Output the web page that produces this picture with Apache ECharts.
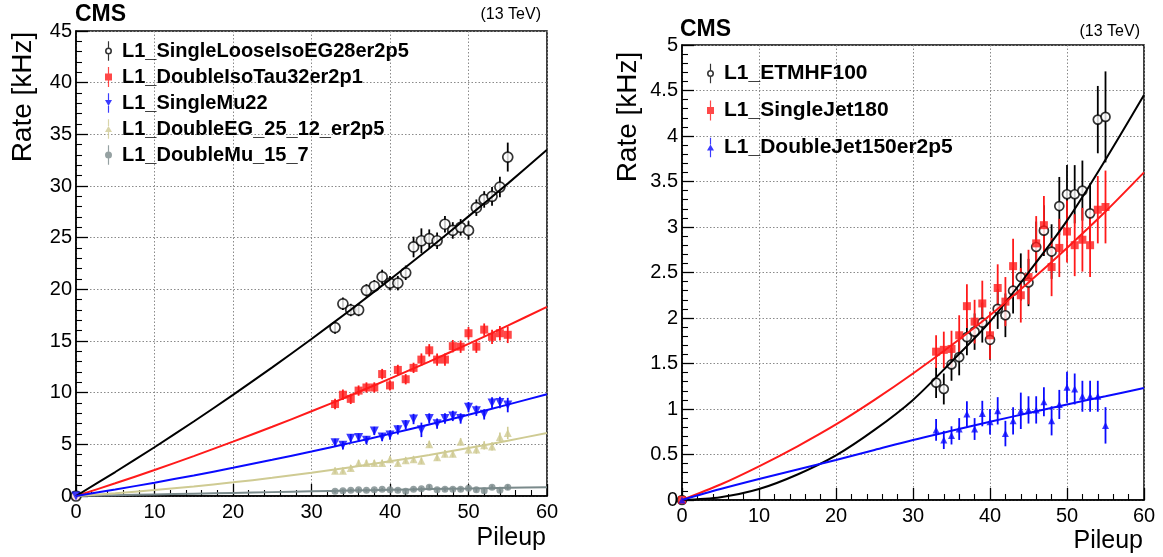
<!DOCTYPE html>
<html>
<head>
<meta charset="utf-8">
<script src="https://cdn.jsdelivr.net/npm/echarts@6/dist/echarts.min.js"></script>
<style>
html,body{margin:0;padding:0;background:#fff;}
#chart{width:1163px;height:557px;}
</style>
</head>
<body>
<div id="chart"></div>
<script>
// ---------- data ----------
const pileup = [0, 33, 34, 35, 36, 37, 38, 39, 40, 41, 42, 43, 44, 45, 46, 47, 48, 49, 50, 51, 52, 53, 54, 55];

// left panel
const leftNames = ['L1_SingleLooseIsoEG28er2p5', 'L1_DoubleIsoTau32er2p1', 'L1_SingleMu22', 'L1_DoubleEG_25_12_er2p5', 'L1_DoubleMu_15_7'];
const egRate   = [0, 16.3, 18.6, 18.0, 18.0, 19.9, 20.3, 21.2, 20.6, 20.6, 21.6, 24.1, 24.7, 24.9, 24.7, 26.3, 25.7, 26.0, 25.7, 27.9, 28.7, 29.0, 29.9, 32.8];
const egErr    = [0, 0.6, 0.6, 0.6, 0.6, 0.6, 0.6, 0.7, 0.7, 0.7, 0.7, 1.0, 1.2, 0.9, 0.8, 0.8, 0.8, 0.8, 0.9, 0.8, 0.8, 0.9, 1.0, 1.4];
const tauRate  = [0, 8.9, 9.8, 9.4, 10.2, 10.5, 10.5, 11.8, 10.7, 12.2, 11.3, 12.4, 13.2, 14.1, 13.2, 13.2, 14.5, 14.45, 15.75, 14.45, 16.1, 15.4, 15.75, 15.6];
const tauErr   = [0, 0.5, 0.5, 0.5, 0.5, 0.5, 0.5, 0.5, 0.5, 0.5, 0.5, 0.5, 0.6, 0.6, 0.6, 0.6, 0.6, 0.6, 0.6, 0.6, 0.6, 0.7, 0.7, 0.8];
const muRate   = [0, 5.15, 4.9, 5.6, 5.65, 5.4, 6.3, 5.7, 5.9, 6.4, 6.9, 7.45, 6.4, 7.5, 7.0, 7.5, 7.75, 7.5, 8.6, 8.25, 7.9, 9.0, 9.05, 8.8];
const muErr    = [0, 0.4, 0.4, 0.4, 0.4, 0.4, 0.4, 0.4, 0.45, 0.45, 0.45, 0.5, 0.7, 0.5, 0.5, 0.5, 0.5, 0.5, 0.5, 0.5, 0.5, 0.55, 0.55, 0.7];
const dEgRate  = [0, 2.45, 2.45, 2.7, 3.2, 3.2, 3.2, 3.2, 3.55, 3.2, 3.45, 3.55, 3.4, 5.0, 3.75, 4.1, 4.1, 5.25, 4.5, 4.5, 4.9, 4.8, 5.7, 6.1];
const dEgErr   = [0, 0.3, 0.3, 0.3, 0.3, 0.3, 0.3, 0.3, 0.3, 0.3, 0.3, 0.3, 0.3, 0.35, 0.35, 0.35, 0.35, 0.35, 0.4, 0.4, 0.4, 0.4, 0.45, 0.6];
const dMuRate  = [0, 0.45, 0.5, 0.55, 0.6, 0.55, 0.6, 0.65, 0.6, 0.55, 0.45, 0.65, 0.7, 0.85, 0.6, 0.65, 0.65, 0.65, 0.75, 0.6, 0.5, 0.85, 0.55, 0.85];
const dMuErr   = [0, 0.15, 0.15, 0.15, 0.15, 0.15, 0.15, 0.15, 0.15, 0.15, 0.15, 0.15, 0.15, 0.2, 0.2, 0.2, 0.2, 0.2, 0.2, 0.2, 0.2, 0.2, 0.2, 0.25];

// fitted curves, every 5 pileup units
const fitPileup = [0, 5, 10, 15, 20, 25, 30, 35, 40, 45, 50, 55, 60];
const egFit   = [0, 2.32, 4.72, 7.21, 9.79, 12.45, 15.2, 18.03, 20.96, 23.96, 27.06, 30.23, 33.5];
const tauFit  = [0, 1.23, 2.52, 3.86, 5.26, 6.70, 8.2, 9.75, 11.36, 13.01, 14.72, 16.49, 18.3];
const muFit   = [0, 0.63, 1.29, 1.99, 2.73, 3.50, 4.3, 5.14, 6.01, 6.92, 7.86, 8.84, 9.85];
const dEgFit  = [0, 0.26, 0.57, 0.92, 1.32, 1.76, 2.25, 2.78, 3.36, 3.97, 4.64, 5.35, 6.1];
const dMuFit  = [0, 0.075, 0.15, 0.225, 0.3, 0.375, 0.45, 0.53, 0.6, 0.67, 0.73, 0.79, 0.85];

// right panel
const rightNames = ['L1_ETMHF100', 'L1_SingleJet180', 'L1_DoubleJet150er2p5'];
const etmRate = [0, 1.29, 1.22, 1.49, 1.57, 1.79, 1.85, 1.95, 1.76, 2.1, 2.03, 2.3, 2.45, 2.39, 2.78, 2.96, 2.73, 3.23, 3.36, 3.36, 3.4, 3.15, 4.18, 4.21];
const etmErr  = [0, 0.17, 0.17, 0.18, 0.2, 0.2, 0.2, 0.22, 0.22, 0.22, 0.24, 0.25, 0.26, 0.26, 0.28, 0.28, 0.3, 0.32, 0.32, 0.32, 0.33, 0.33, 0.37, 0.5];
const jetRate = [0, 1.63, 1.65, 1.66, 1.81, 2.13, 1.96, 2.16, 1.81, 2.33, 2.18, 2.57, 2.25, 2.45, 2.82, 3.02, 2.56, 2.77, 2.95, 2.8, 2.86, 2.8, 3.19, 3.22];
const jetErr  = [0, 0.18, 0.2, 0.2, 0.22, 0.24, 0.24, 0.25, 0.26, 0.26, 0.27, 0.3, 0.3, 0.3, 0.3, 0.32, 0.32, 0.32, 0.34, 0.34, 0.35, 0.35, 0.37, 0.4];
const djRate  = [0, 0.77, 0.66, 0.71, 0.78, 0.945, 0.78, 0.95, 0.86, 0.98, 0.73, 0.87, 0.98, 0.99, 0.99, 1.08, 0.87, 1.05, 1.24, 1.22, 1.14, 1.14, 1.14, 0.82];
const djErr   = [0, 0.12, 0.1, 0.1, 0.12, 0.14, 0.12, 0.14, 0.14, 0.15, 0.14, 0.15, 0.2, 0.15, 0.15, 0.16, 0.16, 0.16, 0.17, 0.17, 0.17, 0.17, 0.17, 0.2];
const etmFit  = [0, 0.03, 0.12, 0.28, 0.49, 0.77, 1.1, 1.52, 1.96, 2.5, 3.07, 3.74, 4.45];
const jetFit  = [0, 0.17, 0.37, 0.59, 0.83, 1.10, 1.39, 1.70, 2.03, 2.39, 2.77, 3.17, 3.6];
const djFit   = [0, 0.12, 0.23, 0.335, 0.44, 0.55, 0.66, 0.76, 0.86, 0.955, 1.05, 1.14, 1.23];

// ---------- chart ----------
const FONT = 'Liberation Sans, Arial, Helvetica, sans-serif';
const chart = echarts.init(document.getElementById('chart'), null, {renderer: 'canvas'});

function errSeries(ax, vals, errs, color, w) {
  return {
    type: 'custom', xAxisIndex: ax, yAxisIndex: ax, silent: true, z: 2,
    data: pileup.map((p, i) => [p, vals[i], errs[i]]),
    encode: {x: 0, y: 1},
    renderItem: function (params, api) {
      const x = api.value(0), y = api.value(1), e = api.value(2);
      if (!e) return {type: 'group', children: []};
      const a = api.coord([x, y + e]), b = api.coord([x, y - e]);
      return {type: 'line', shape: {x1: a[0], y1: a[1], x2: b[0], y2: b[1]},
              style: {stroke: color, lineWidth: w}};
    }
  };
}
function pointSeries(ax, name, vals, symbol, size, color, open, rotate) {
  return {
    type: 'scatter', name: name, xAxisIndex: ax, yAxisIndex: ax, z: 3,
    data: pileup.map((p, i) => [p, vals[i]]),
    symbol: symbol, symbolSize: size, symbolRotate: rotate || 0,
    itemStyle: open ? {color: '#fff', borderColor: color, borderWidth: 1.7}
                    : {color: color, borderWidth: 0},
    emphasis: {disabled: true}
  };
}
function fitSeries(ax, vals, color) {
  return {
    type: 'line', xAxisIndex: ax, yAxisIndex: ax, z: 4, silent: true,
    data: fitPileup.map((p, i) => [p, vals[i]]),
    smooth: 0.3, showSymbol: false, symbol: 'none',
    lineStyle: {color: color, width: 2}
  };
}

const icons = {
  openCircle: 'path://M3,0h1.2v6.3h-1.2z M3,13.7h1.2v6.3h-1.2z M0,10a3.6,3.6 0 1,0 7.2,0a3.6,3.6 0 1,0 -7.2,0z M1.6,10a2,2 0 1,1 4,0a2,2 0 1,1 -4,0z',
  square: 'path://M3,0h1.2v6.5h-1.2z M3,13.5h1.2v6.5h-1.2z M0.1,6.5h7v7h-7z',
  triDown: 'path://M3,0h1.2v7h-1.2z M3,13h1.2v7h-1.2z M0,7h7.2l-3.6,6.2z',
  triUp: 'path://M3,0h1.2v7h-1.2z M3,13h1.2v7h-1.2z M0,13h7.2l-3.6,-6.2z',
  circle: 'path://M3,0h1.2v6.4h-1.2z M3,13.6h1.2v6.4h-1.2z M0,10a3.6,3.6 0 1,0 7.2,0a3.6,3.6 0 1,0 -7.2,0z'
};

const colors = {black: '#000000', red: '#ff1a1a', blue: '#0a0aff', khaki: '#cfcb93', gray: '#7a8a8b'};

function xAxisDef(gi) {
  return {
    type: 'value', gridIndex: gi, min: 0, max: 60, interval: 10,
    axisLine: {show: true, onZero: false, lineStyle: {color: '#000', width: 1.5}},
    axisTick: {show: true, inside: true, length: 12, lineStyle: {color: '#000', width: 1.3}},
    minorTick: {show: true, splitNumber: 5, length: 6, lineStyle: {color: '#000', width: 1.1}},
    splitLine: {show: true, lineStyle: {color: '#8a8a8a', width: 1, type: [1.5, 2]}},
    axisLabel: {color: '#000', fontSize: 20, fontFamily: FONT, margin: 6}
  };
}
function yAxisDef(gi, max, interval) {
  return {
    type: 'value', gridIndex: gi, min: 0, max: max, interval: interval,
    axisLine: {show: true, onZero: false, lineStyle: {color: '#000', width: 1.5}},
    axisTick: {show: true, inside: true, length: 12, lineStyle: {color: '#000', width: 1.3}},
    minorTick: {show: true, splitNumber: 5, length: 6, lineStyle: {color: '#000', width: 1.1}},
    splitLine: {show: true, lineStyle: {color: '#8a8a8a', width: 1, type: [1.5, 2]}},
    axisLabel: {color: '#000', fontSize: 20, fontFamily: FONT, margin: 4}
  };
}

function legendText(size) {
  return {color: '#000', fontSize: size, fontWeight: 'bold', fontFamily: FONT, padding: [0, 0, 0, 5]};
}

const option = {
  animation: false,
  backgroundColor: '#fff',
  textStyle: {fontFamily: FONT},
  title: [
    {text: 'CMS', left: 75, top: 3, padding: 0, textStyle: {fontSize: 23, fontWeight: 'bold', color: '#000', fontFamily: FONT}},
    {text: '(13 TeV)', right: 1163 - 541, top: 7, padding: 0, textStyle: {fontSize: 16, fontWeight: 'normal', color: '#000', fontFamily: FONT}},
    {text: 'CMS', left: 680, top: 18, padding: 0, textStyle: {fontSize: 23, fontWeight: 'bold', color: '#000', fontFamily: FONT}},
    {text: '(13 TeV)', right: 1163 - 1140, top: 24, padding: 0, textStyle: {fontSize: 16, fontWeight: 'normal', color: '#000', fontFamily: FONT}}
  ],
  grid: [
    {left: 76, top: 31, width: 471, height: 465, show: true, borderColor: '#000', borderWidth: 1.5, containLabel: false},
    {left: 682, top: 45, width: 462, height: 455, show: true, borderColor: '#000', borderWidth: 1.5, containLabel: false}
  ],
  xAxis: [xAxisDef(0), xAxisDef(1)],
  yAxis: [yAxisDef(0, 45, 5), yAxisDef(1, 5, 0.5)],
  legend: [
    {
      orient: 'vertical', left: 105, top: 41, itemWidth: 7, itemHeight: 20, itemGap: 6, padding: 0,
      selectedMode: false, textStyle: legendText(20),
      data: [
        {name: leftNames[0], icon: icons.openCircle, itemStyle: {color: colors.black, borderWidth: 0}},
        {name: leftNames[1], icon: icons.square, itemStyle: {color: colors.red, borderWidth: 0}},
        {name: leftNames[2], icon: icons.triDown, itemStyle: {color: colors.blue, borderWidth: 0}},
        {name: leftNames[3], icon: icons.triUp, itemStyle: {color: colors.khaki, borderWidth: 0}},
        {name: leftNames[4], icon: icons.circle, itemStyle: {color: colors.gray, borderWidth: 0}}
      ]
    },
    {
      orient: 'vertical', left: 707, top: 63, itemWidth: 7, itemHeight: 20, itemGap: 16, padding: 0,
      selectedMode: false, textStyle: legendText(21),
      data: [
        {name: rightNames[0], icon: icons.openCircle, itemStyle: {color: colors.black, borderWidth: 0}},
        {name: rightNames[1], icon: icons.square, itemStyle: {color: colors.red, borderWidth: 0}},
        {name: rightNames[2], icon: icons.triUp, itemStyle: {color: colors.blue, borderWidth: 0}}
      ]
    }
  ],
  graphic: [
    {type: 'text', x: 23, y: 97, rotation: Math.PI / 2, silent: true,
     style: {text: 'Rate [kHz]', font: '28px ' + FONT, fill: '#000', align: 'center', verticalAlign: 'middle'}},
    {type: 'text', x: 546, y: 538, silent: true,
     style: {text: 'Pileup', font: '25px ' + FONT, fill: '#000', align: 'right', verticalAlign: 'middle'}},
    {type: 'text', x: 628, y: 117, rotation: Math.PI / 2, silent: true,
     style: {text: 'Rate [kHz]', font: '28px ' + FONT, fill: '#000', align: 'center', verticalAlign: 'middle'}},
    {type: 'text', x: 1143, y: 541, silent: true,
     style: {text: 'Pileup', font: '25px ' + FONT, fill: '#000', align: 'right', verticalAlign: 'middle'}}
  ],
  series: [
    // left panel
    errSeries(0, dMuRate, dMuErr, colors.gray, 1.6),
    pointSeries(0, leftNames[4], dMuRate, 'circle', 7, colors.gray, false),
    fitSeries(0, dMuFit, colors.gray),
    errSeries(0, dEgRate, dEgErr, colors.khaki, 1.6),
    pointSeries(0, leftNames[3], dEgRate, 'triangle', 8, colors.khaki, false),
    fitSeries(0, dEgFit, colors.khaki),
    errSeries(0, tauRate, tauErr, colors.red, 1.8),
    pointSeries(0, leftNames[1], tauRate, 'rect', 8, colors.red, false),
    fitSeries(0, tauFit, colors.red),
    errSeries(0, egRate, egErr, colors.black, 1.8),
    pointSeries(0, leftNames[0], egRate, 'circle', 10, colors.black, true),
    fitSeries(0, egFit, colors.black),
    errSeries(0, muRate, muErr, colors.blue, 1.8),
    pointSeries(0, leftNames[2], muRate, 'triangle', 9, colors.blue, false, 180),
    fitSeries(0, muFit, colors.blue),
    // right panel
    errSeries(1, etmRate, etmErr, colors.black, 1.8),
    pointSeries(1, rightNames[0], etmRate, 'circle', 9, colors.black, true),
    fitSeries(1, etmFit, colors.black),
    errSeries(1, jetRate, jetErr, colors.red, 1.8),
    pointSeries(1, rightNames[1], jetRate, 'rect', 8, colors.red, false),
    fitSeries(1, jetFit, colors.red),
    errSeries(1, djRate, djErr, colors.blue, 1.8),
    pointSeries(1, rightNames[2], djRate, 'triangle', 7, colors.blue, false),
    fitSeries(1, djFit, colors.blue)
  ]
};
chart.setOption(option);
</script>
</body>
</html>
